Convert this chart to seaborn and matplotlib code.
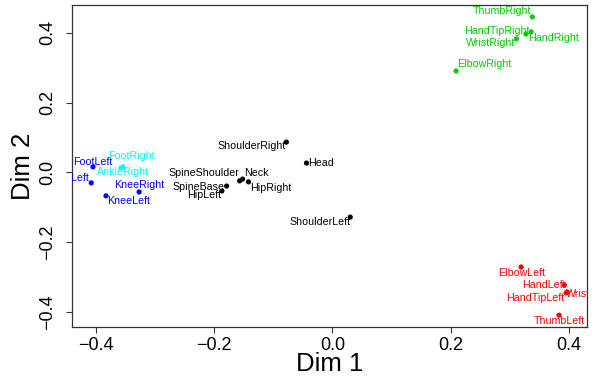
import matplotlib
matplotlib.use("Agg")
import matplotlib.pyplot as plt
import seaborn as sns
import pandas as pd

# Joint coordinates on the first two dimensions
joints = ["ThumbRight", "HandTipRight", "HandRight", "WristRight", "ElbowRight",
          "FootRight", "AnkleRight",
          "FootLeft", "AnkleLeft", "KneeRight", "KneeLeft",
          "ShoulderRight", "Head", "SpineShoulder", "Neck", "HipRight",
          "SpineBase", "HipLeft", "ShoulderLeft",
          "ElbowLeft", "HandLeft", "WristLeft", "HandTipLeft", "ThumbLeft"]
dim1 = [0.338, 0.327, 0.336, 0.311, 0.209,
        -0.354, -0.358,
        -0.405, -0.408, -0.327, -0.383,
        -0.078, -0.044, -0.157, -0.152, -0.142,
        -0.179, -0.187, 0.030,
        0.319, 0.392, 0.397, 0.395, 0.383]
dim2 = [0.446, 0.397, 0.403, 0.383, 0.291,
        0.016, 0.013,
        0.016, -0.030, -0.056, -0.067,
        0.087, 0.027, -0.024, -0.019, -0.027,
        -0.039, -0.053, -0.128,
        -0.271, -0.323, -0.343, -0.345, -0.409]
group = (["right arm"] * 5 + ["right leg"] * 2 + ["left leg"] * 4
         + ["trunk"] * 8 + ["left arm"] * 5)

palette = {"right arm": "#00CD00", "right leg": "#00FFFF", "left leg": "#0000FF",
           "trunk": "#000000", "left arm": "#FF0000"}

# label offsets from each point, in pixels (right, up)
label_dx = [-30, -29, 22, -26, 28,
            8, 2,
            0, -24, 0, 23,
            -35, 15, -36, 14, 22,
            -28, -18, -30,
            1, -20, 20, -31, 0]
label_dy = [6, 3, -6, -4, 7,
            11, -4,
            5, 5, 7, -5,
            -4, 0, 8, 6, -6,
            -1, -4, -5,
            -6, 0, -2, -5, -6]

df = pd.DataFrame({"joint": joints, "Dim 1": dim1, "Dim 2": dim2, "group": group})

sns.set_style("ticks")
plt.rcParams["font.family"] = ["Liberation Sans", "DejaVu Sans"]
plt.rcParams["text.color"] = "black"
plt.rcParams["axes.labelcolor"] = "black"

fig = plt.figure(figsize=(5.94, 3.80), dpi=100)
ax = fig.add_axes([72 / 594, 1 - 327 / 380, (587 - 72) / 594, (327 - 5) / 380])

sns.scatterplot(data=df, x="Dim 1", y="Dim 2", hue="group", palette=palette,
                s=14, linewidth=0, legend=False, ax=ax)

for name, x, y, g, dx, dy in zip(joints, dim1, dim2, group, label_dx, label_dy):
    ax.annotate(name, (x, y), xytext=(dx * 0.72, dy * 0.72), textcoords="offset points",
                ha="center", va="center", fontsize=7.7, color=palette[g],
                annotation_clip=False, clip_on=True)

ax.set_xlim(-0.4405, 0.4304)
ax.set_ylim(-0.443, 0.480)
ax.set_xticks([-0.4, -0.2, 0.0, 0.2, 0.4])
ax.set_yticks([-0.4, -0.2, 0.0, 0.2, 0.4])
ax.set_xticklabels(["\u22120.4", "\u22120.2", "0.0", "0.2", "0.4"])
ax.set_yticklabels(["\u22120.4", "\u22120.2", "0.0", "0.2", "0.4"], rotation=90, va="center")
ax.tick_params(axis="both", labelsize=13, length=4.5, width=0.8, color="#333333",
               labelcolor="black", direction="out")
ax.tick_params(axis="x", pad=2.5)
ax.tick_params(axis="y", pad=7)
for sp in ax.spines.values():
    sp.set_visible(True)
    sp.set_color("#333333")
    sp.set_linewidth(0.9)
ax.set_xlabel("Dim 1", fontsize=18.5, labelpad=-1)
ax.set_ylabel("Dim 2", fontsize=18.5, labelpad=3)

fig.savefig("out.png", dpi=100)
